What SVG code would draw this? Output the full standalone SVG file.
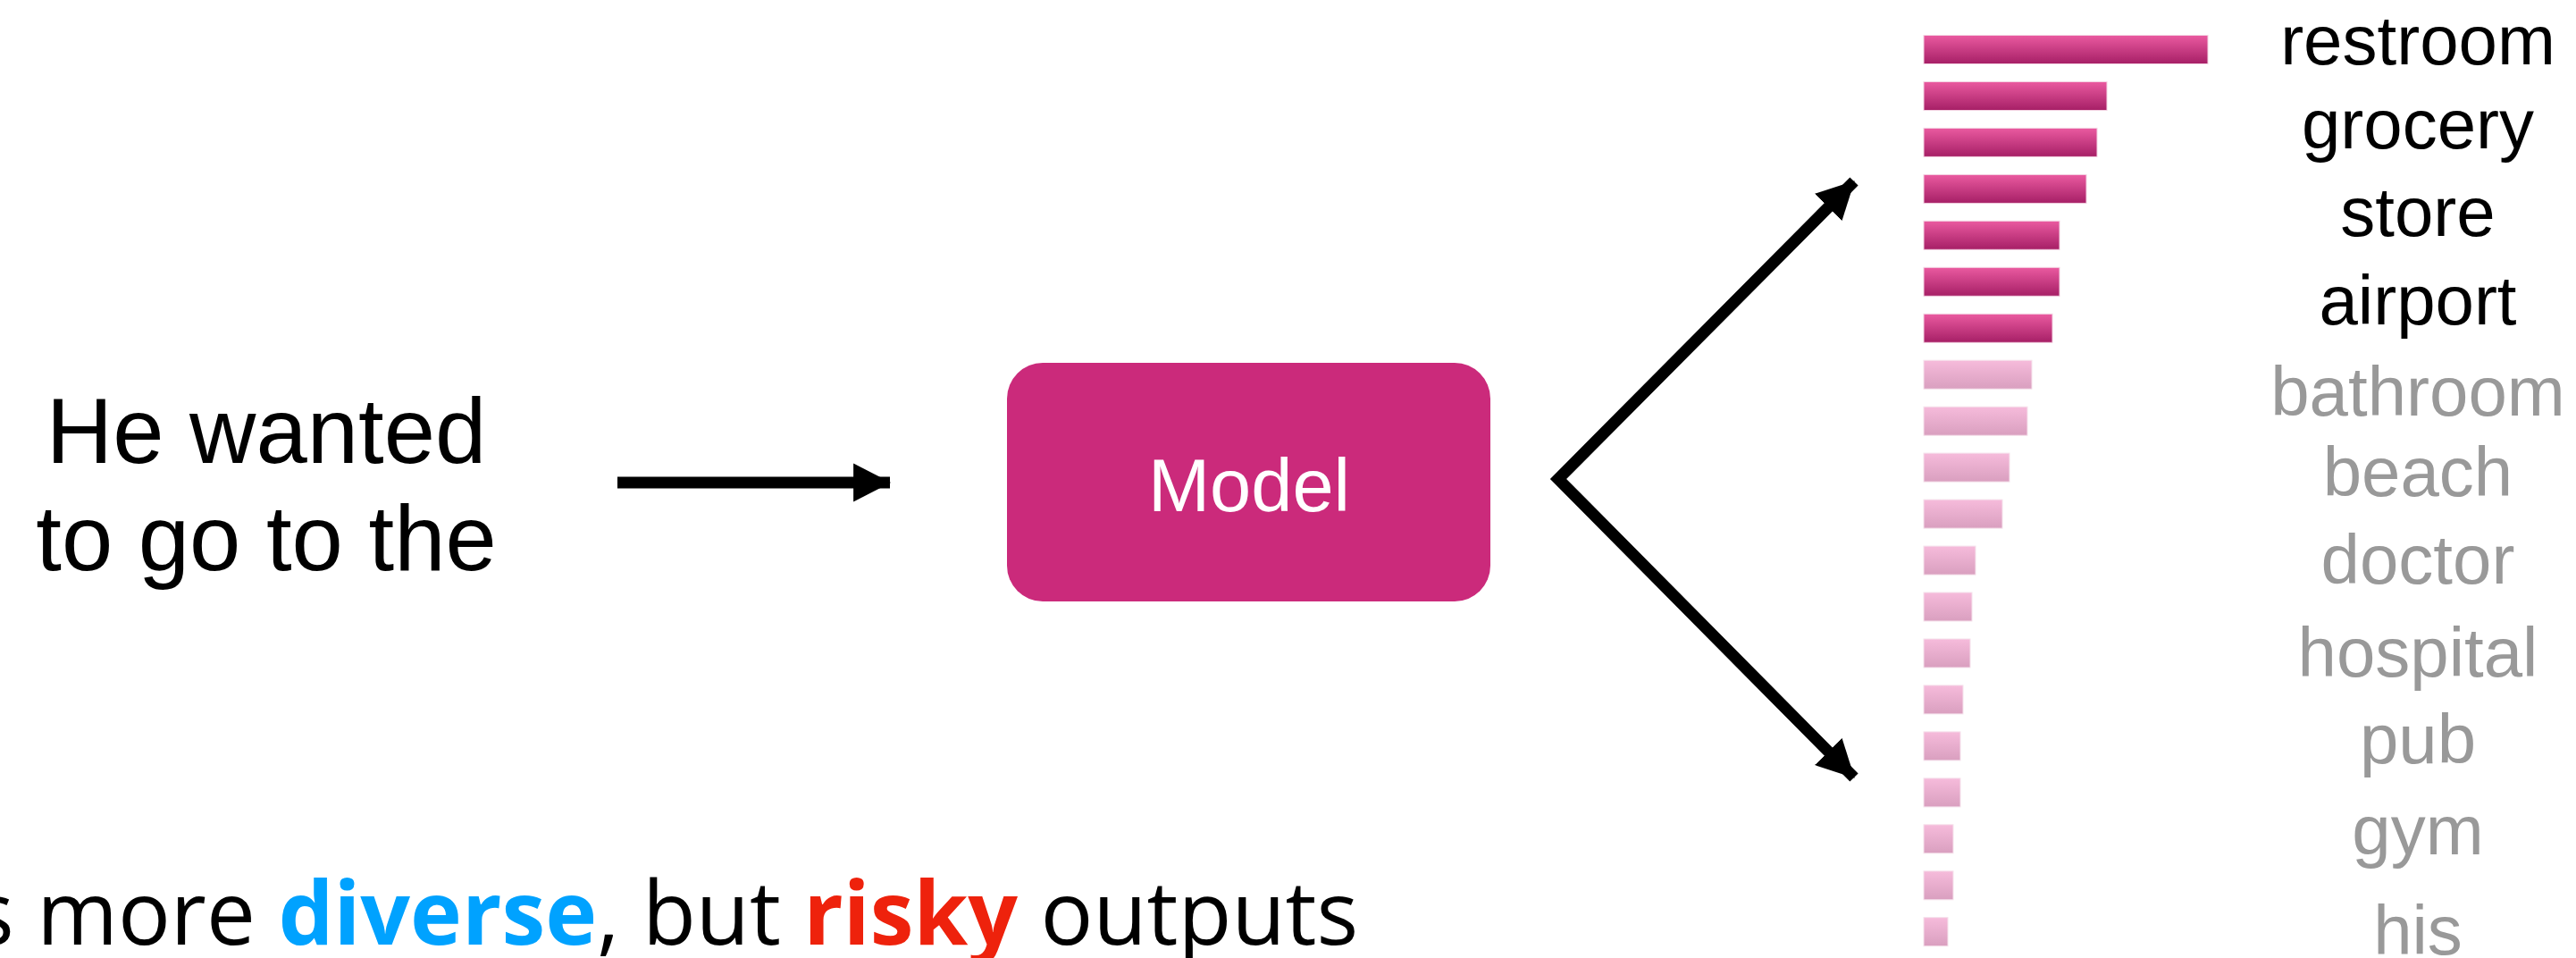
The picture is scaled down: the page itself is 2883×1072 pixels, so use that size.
<svg xmlns="http://www.w3.org/2000/svg" width="2883" height="1072" viewBox="0 0 2883 1072">
  <style>
    .sans { font-family: "Liberation Sans", Arial, sans-serif; }
    .prompt { font-size: 103px; fill: #000; text-anchor: middle; }
    .model-label { font-size: 83px; fill: #fff; text-anchor: middle; }
    .word { font-size: 78px; text-anchor: middle; }
    .top { fill: #000; }
    .rest { fill: #999; }
    .bar-hi { fill: url(#gradHi); stroke: #f3d2e2; stroke-width: 1; }
    .bar-lo { fill: url(#gradLo); stroke: #f6e2ec; stroke-width: 1; }
    .edge { fill: none; stroke: #000; stroke-width: 13; stroke-linejoin: miter; stroke-miterlimit: 10; }
    .caption { font-family: "Open Sans", "DejaVu Sans", sans-serif; font-size: 98px; fill: #000; }
    .diverse { font-weight: bold; fill: #00a2ff; }
    .risky { font-weight: bold; fill: #ee220c; }
  </style>
  <defs>
    <linearGradient id="gradHi" x1="0" y1="0" x2="0" y2="1">
      <stop offset="0" stop-color="#ea5aa0"/>
      <stop offset="1" stop-color="#a61f66"/>
    </linearGradient>
    <linearGradient id="gradLo" x1="0" y1="0" x2="0" y2="1">
      <stop offset="0" stop-color="#f6bbdb"/>
      <stop offset="1" stop-color="#d99fbf"/>
    </linearGradient>
    <marker id="head" markerUnits="userSpaceOnUse" markerWidth="42" markerHeight="44" viewBox="0 -21 40 42" refX="39" refY="0" orient="auto-start-reverse">
      <path d="M0,-20.5 L40,0 L0,20.5 Z" fill="#000"/>
    </marker>
  </defs>

  <rect width="2883" height="1072" fill="#fff"/>

  <!-- input prompt -->
  <g id="prompt">
    <text class="sans prompt" x="298" y="518">He wanted</text>
    <text class="sans prompt" x="298" y="638">to go to the</text>
  </g>

  <!-- model block -->
  <g id="model">
    <rect x="1127" y="406" width="541" height="267" rx="40" ry="40" fill="#cb2a7b"/>
    <text class="sans model-label" x="1398" y="572">Model</text>
  </g>

  <!-- next-token distribution: bars -->
  <g id="distribution">
    <rect class="bar-hi" x="2153" y="39.5" width="318" height="32"/>
    <rect class="bar-hi" x="2153" y="91.5" width="205" height="32"/>
    <rect class="bar-hi" x="2153" y="143.4" width="194" height="32"/>
    <rect class="bar-hi" x="2153" y="195.4" width="182" height="32"/>
    <rect class="bar-hi" x="2153" y="247.3" width="152" height="32"/>
    <rect class="bar-hi" x="2153" y="299.3" width="152" height="32"/>
    <rect class="bar-hi" x="2153" y="351.3" width="144" height="32"/>
    <rect class="bar-lo" x="2153" y="403.2" width="121" height="32"/>
    <rect class="bar-lo" x="2153" y="455.2" width="116" height="32"/>
    <rect class="bar-lo" x="2153" y="507.1" width="96" height="32"/>
    <rect class="bar-lo" x="2153" y="559.1" width="88" height="32"/>
    <rect class="bar-lo" x="2153" y="611.1" width="58" height="32"/>
    <rect class="bar-lo" x="2153" y="663.0" width="54" height="32"/>
    <rect class="bar-lo" x="2153" y="715.0" width="52" height="32"/>
    <rect class="bar-lo" x="2153" y="766.9" width="44" height="32"/>
    <rect class="bar-lo" x="2153" y="818.9" width="41" height="32"/>
    <rect class="bar-lo" x="2153" y="870.9" width="41" height="32"/>
    <rect class="bar-lo" x="2153" y="922.8" width="33" height="32"/>
    <rect class="bar-lo" x="2153" y="974.8" width="33" height="32"/>
    <rect class="bar-lo" x="2153" y="1026.7" width="27" height="32"/>
  </g>

  <!-- candidate words -->
  <g id="words">
    <text class="sans word top" x="2706" y="72">restroom</text>
    <text class="sans word top" x="2706" y="166">grocery</text>
    <text class="sans word top" x="2706" y="264">store</text>
    <text class="sans word top" x="2706" y="363">airport</text>
    <text class="sans word rest" x="2706" y="465">bathroom</text>
    <text class="sans word rest" x="2706" y="555">beach</text>
    <text class="sans word rest" x="2706" y="653">doctor</text>
    <text class="sans word rest" x="2706" y="757">hospital</text>
    <text class="sans word rest" x="2706" y="854">pub</text>
    <text class="sans word rest" x="2706" y="956">gym</text>
    <text class="sans word rest" x="2706" y="1068">his</text>
  </g>

  <!-- connectors -->
  <g id="connectors">
    <path class="edge" d="M691,540 H996" marker-end="url(#head)"/>
    <path class="edge" d="M2075,203 L1744,536 L2075,870" marker-start="url(#head)" marker-end="url(#head)"/>
  </g>

  <!-- caption, running off the left and bottom edges -->
  <g id="caption">
    <text class="caption" x="-31" y="1057">s more <tspan class="diverse">diverse</tspan>, but <tspan class="risky">risky</tspan> outputs</text>
  </g>
</svg>
